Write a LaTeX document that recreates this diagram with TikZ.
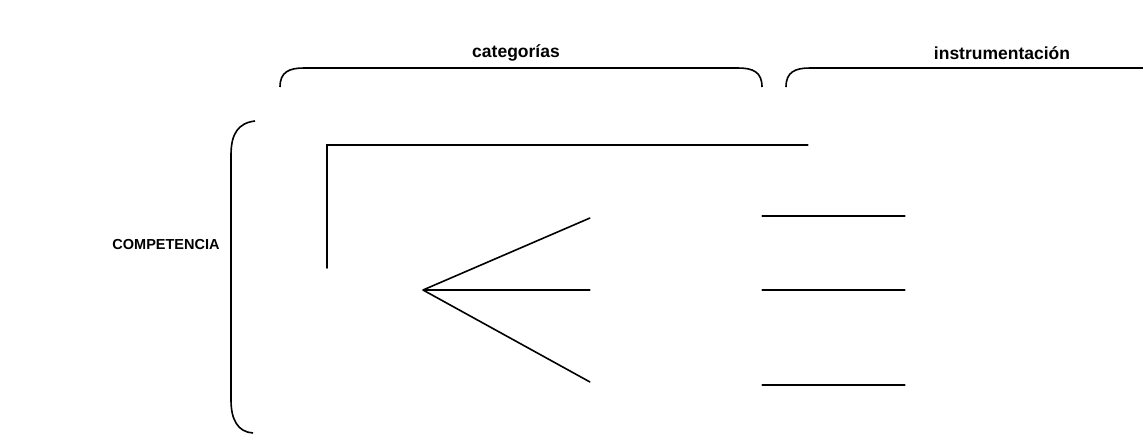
\documentclass[tikz,border=0pt]{standalone}
\usepackage{fontspec}
\setmainfont{Liberation Sans}
\begin{document}
\begin{tikzpicture}[x=1pt,y=-1pt,
  head/.style={font=\bfseries\fontsize{17.5}{21}\selectfont, inner sep=0pt, anchor=center},
  side/.style={font=\bfseries\fontsize{14.5}{17}\selectfont, inner sep=0pt, anchor=center},
  ln/.style={line width=1.6pt, line cap=round},
  brk/.style={line width=1.6pt},
  slot/.style={inner sep=0pt, minimum width=0pt, minimum height=0pt}]
\useasboundingbox (0,0) rectangle (1143,437);

% headings
\node[head] (cat) at (516,53) {categorías};
\node[head] (ins) at (1002,53) {instrumentación};
\node[side] (comp) at (166,245) {COMPETENCIA};

% brackets
\draw[brk] (280,87) .. controls (280,72) and (289,68) .. (304,68) -- (738,68)
  .. controls (753,68) and (762,72) .. (762,87);
\draw[brk] (786,87) .. controls (786,72) and (795,68) .. (810,68) -- (1143,68);
\draw[brk] (255,121) .. controls (238,123) and (231,134) .. (231,155) -- (231,400)
  .. controls (231,420) and (238,432) .. (253,433);

% anchor points of the entries
\node[slot] (root) at (423,290) {};
\coordinate (rootTop) at (327,268);
\coordinate (elbow) at (327,145);
\node[slot] (inst0) at (808,145) {};
\node[slot] (cat1) at (590,218) {};
\node[slot] (cat2) at (590,290) {};
\node[slot] (cat3) at (590,382) {};
\node[slot] (cat1e) at (762,216) {};
\node[slot] (cat2e) at (762,290) {};
\node[slot] (cat3e) at (762,385) {};
\node[slot] (inst1) at (905,216) {};
\node[slot] (inst2) at (905,290) {};
\node[slot] (inst3) at (905,385) {};

% connectors
\draw[ln] (rootTop) -- (elbow) -- (inst0);
\draw[ln] (root) -- (cat1);
\draw[ln] (root) -- (cat2);
\draw[ln] (root) -- (cat3);
\draw[ln] (cat1e) -- (inst1);
\draw[ln] (cat2e) -- (inst2);
\draw[ln] (cat3e) -- (inst3);
\end{tikzpicture}
\end{document}
